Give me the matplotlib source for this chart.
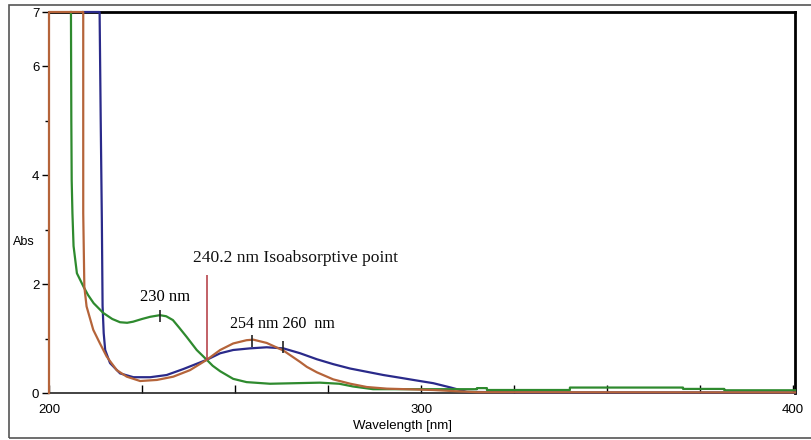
import matplotlib
matplotlib.use("Agg")
import matplotlib.pyplot as plt
from matplotlib.patches import Rectangle

# spectra (wavelength nm, absorbance)
wl_blue = [209.2, 213.6, 213.9, 214.2, 214.4, 214.7, 215.1, 216.4, 219.1, 222.7, 227.2,
           231.6, 236.1, 242.4, 246.0, 249.5, 254.0, 258.5, 263.0, 267.5, 272.0, 276.4,
           280.9, 285.4, 289.9, 294.4, 298.8, 303.3, 308.0, 312.3, 330.0, 400.5]
abs_blue = [7.0, 7.0, 5.0, 3.2, 1.6, 1.1, 0.79, 0.55, 0.36, 0.29, 0.29,
            0.33, 0.44, 0.61, 0.73, 0.79, 0.82, 0.84, 0.82, 0.73, 0.62, 0.53,
            0.45, 0.39, 0.33, 0.28, 0.23, 0.18, 0.10, 0.02, 0.01, 0.01]

wl_green = [205.9, 206.0, 206.1, 206.3, 206.6, 207.5, 209.3, 210.5, 212.0, 214.6, 217.0,
            219.1, 221.0, 222.6, 225.0, 227.2, 229.8, 231.5, 233.3, 235.0, 237.0, 239.7,
            242.4, 244.0, 246.0, 249.5, 253.1, 259.4, 266.0, 272.8, 278.0, 281.7, 287.1,
            315.0, 315.0, 317.7, 317.7, 340.0, 340.0, 370.4, 370.4, 381.5, 381.5, 400.5]
abs_green = [7.0, 5.0, 3.9, 3.3, 2.7, 2.2, 1.95, 1.8, 1.65, 1.47, 1.36,
             1.30, 1.29, 1.31, 1.36, 1.40, 1.43, 1.41, 1.34, 1.20, 1.03, 0.79,
             0.61, 0.50, 0.40, 0.26, 0.20, 0.17, 0.18, 0.19, 0.17, 0.12, 0.07,
             0.07, 0.09, 0.09, 0.055, 0.055, 0.10, 0.10, 0.075, 0.075, 0.05, 0.05]

wl_brown = [200.0, 200.0, 209.2, 209.2, 209.5, 210.1, 211.9, 213.7, 215.5, 218.2, 220.9,
            224.5, 229.0, 233.4, 237.9, 242.4, 246.0, 249.5, 253.1, 254.9, 258.5, 263.0,
            267.5, 269.3, 272.0, 274.7, 276.4, 281.0, 285.4, 290.8, 303.2, 310.0, 315.0, 400.5]
abs_brown = [0.0, 7.0, 7.0, 3.3, 1.95, 1.59, 1.16, 0.91, 0.67, 0.42, 0.30,
             0.22, 0.24, 0.30, 0.42, 0.61, 0.79, 0.91, 0.97, 0.98, 0.92, 0.78,
             0.57, 0.48, 0.38, 0.30, 0.25, 0.17, 0.11, 0.08, 0.055, 0.03, 0.015, 0.01]

# peak marks
peak_wl = [229.8, 254.5, 263.0]
peak_abs = [1.42, 0.95, 0.85]
iso_wl = 242.5
iso_abs = 0.61

fig = plt.figure(figsize=(8.12, 4.40), dpi=100)
fig.patches.append(Rectangle((9 / 812, 2 / 440), 810 / 812, 433 / 440,
                             transform=fig.transFigure, fill=False,
                             edgecolor="#555555", lw=1.2))
ax = fig.add_axes([49 / 812, 1 - 393 / 440, 746 / 812, 381 / 440])

ax.plot(wl_blue, abs_blue, color="#2a2a8a", lw=1.6, zorder=3, clip_on=False)
ax.plot(wl_green, abs_green, color="#2e8a2e", lw=1.6, zorder=3, clip_on=False)
ax.plot(wl_brown, abs_brown, color="#b5643a", lw=1.6, zorder=3, clip_on=False)

ax.plot(peak_wl, peak_abs, ls="none", marker="|", markersize=9, mew=1.2,
        color="#222222", zorder=4)
ax.vlines(iso_wl, iso_abs, 2.17, color="#b8454d", lw=1.2, zorder=4)

serif = ["Liberation Serif", "DejaVu Serif"]
ax.text(238.7, 2.48, "240.2 nm Isoabsorptive point", family=serif, fontsize=12.6,
        ha="left", va="center", color="#111111")
ax.text(224.5, 1.77, "230 nm", family=serif, fontsize=12, ha="left", va="center")
ax.text(248.7, 1.26, "254 nm 260  nm", family=serif, fontsize=11.5, ha="left", va="center")

ax.set_xlim(200, 400.5)
ax.set_ylim(0, 7)
ax.set_xticks([200, 300, 400])
ax.set_xticks([225, 250, 275, 325, 350, 375], minor=True)
ax.set_yticks([0, 2, 4, 6, 7])
ax.set_yticks([1, 3, 5], minor=True)

sans = ["Liberation Sans", "DejaVu Sans"]
for lab in ax.get_xticklabels() + ax.get_yticklabels():
    lab.set_family(sans)
    lab.set_fontsize(9.5)
ax.tick_params(axis="x", which="both", direction="in", length=6, width=1, pad=8)
ax.tick_params(axis="y", which="major", direction="out", length=5, width=1, pad=2)
ax.tick_params(axis="y", which="minor", direction="out", length=3, width=1)

for side in ["top", "right"]:
    ax.spines[side].set_linewidth(2.0)
for side in ["left", "bottom"]:
    ax.spines[side].set_linewidth(1.2)
    ax.spines[side].set_color("#222222")

fig.text(24 / 812, 1 - 242 / 440, "Abs", family=sans, fontsize=9, ha="center", va="center")
fig.text(403 / 812, 1 - 426 / 440, "Wavelength [nm]", family=sans, fontsize=9.5,
         ha="center", va="center")

fig.savefig("out.png", dpi=100)
